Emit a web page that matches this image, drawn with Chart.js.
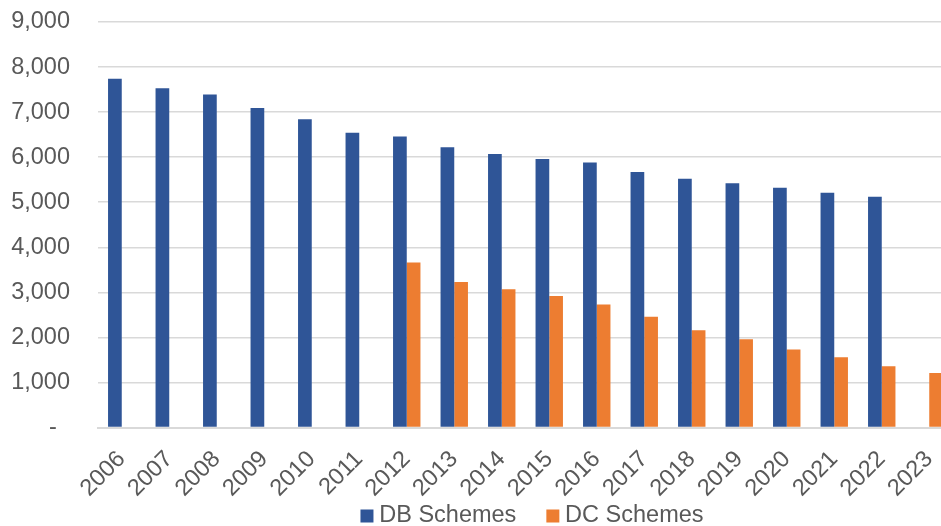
<!DOCTYPE html>
<html>
<head>
<meta charset="utf-8">
<script src="https://cdn.jsdelivr.net/npm/chart.js@4/dist/chart.umd.min.js"></script>
<style>
  html, body { margin: 0; padding: 0; background: #ffffff; overflow: hidden; }
  #wrap { position: relative; width: 960px; height: 577px; }
</style>
</head>
<body>
<div id="wrap"><canvas id="chart" width="960" height="577"></canvas></div>
<script>
// Number of pension schemes by type, per year
const years = ['2006','2007','2008','2009','2010','2011','2012','2013','2014','2015',
               '2016','2017','2018','2019','2020','2021','2022','2023'];
const dbSchemes = [7740, 7530, 7390, 7090, 6840, 6540, 6460, 6220, 6070, 5960,
                   5880, 5670, 5520, 5420, 5320, 5210, 5120, null];
const dcSchemes = [null, null, null, null, null, null, 3660, 3230, 3070, 2920,
                   2730, 2460, 2160, 1960, 1730, 1560, 1360, 1210];
const yTicks = [0, 1000, 2000, 3000, 4000, 5000, 6000, 7000, 8000, 9000];

const FONT = '"Liberation Sans", Arial, sans-serif';
const FONT_SIZE = 23.5;
const TEXT = '#595959';
const GRID = '#D9D9D9';
const LEGEND_PADDING = 36;

// Place the legend row so its text is centred on (x, y)
const legendPlace = {
  id: 'legendPlace',
  afterLayout(chart, args, opts) {
    const lg = chart.legend;
    if (!lg) return;
    const dx = opts.x - (lg.left + lg.right) / 2;
    lg.left += dx;
    lg.right += dx;
    const dy = (opts.y - LEGEND_PADDING - FONT_SIZE / 2) - lg.top;
    lg.top += dy;
    lg.bottom += dy;
  }
};

new Chart(document.getElementById('chart'), {
  type: 'bar',
  data: {
    labels: years,
    datasets: [
      { label: 'DB Schemes', data: dbSchemes, backgroundColor: '#2F5597',
        categoryPercentage: 0.577, barPercentage: 1.0 },
      { label: 'DC Schemes', data: dcSchemes, backgroundColor: '#ED7D31',
        categoryPercentage: 0.577, barPercentage: 1.0 }
    ]
  },
  options: {
    responsive: false,
    animation: false,
    layout: { padding: { left: 11, right: 7, top: 22, bottom: 0 } },
    scales: {
      x: {
        afterFit(scale) {
          scale.paddingLeft = 0;
          scale.paddingRight = 0;
          scale.height = 80;
        },
        grid: { display: false },
        border: { display: true, color: GRID, width: 2 },
        ticks: {
          color: TEXT,
          font: { family: FONT, size: FONT_SIZE },
          minRotation: 45, maxRotation: 45,
          padding: 10,
          autoSkip: false
        }
      },
      y: {
        min: 0, max: 9000,
        afterFit(scale) {
          scale.paddingTop = 0;
          scale.paddingBottom = 0;
          scale.width = 87;
        },
        afterBuildTicks(scale) { scale.ticks = yTicks.map(v => ({ value: v })); },
        grid: { color: GRID, lineWidth: 1.5, drawTicks: false },
        border: { display: false },
        ticks: {
          color: TEXT,
          font: { family: FONT, size: FONT_SIZE },
          padding: 28,
          callback: v => v === 0 ? '-  ' : v.toLocaleString('en-US')
        }
      }
    },
    plugins: {
      legendPlace: { x: 535, y: 516 },
      legend: {
        position: 'bottom',
        labels: {
          color: TEXT,
          font: { family: FONT, size: FONT_SIZE },
          usePointStyle: true,
          pointStyle: 'rect',
          boxWidth: 1,
          boxHeight: 13,
          padding: LEGEND_PADDING
        }
      },
      tooltip: { enabled: false }
    }
  },
  plugins: [legendPlace]
});
</script>
</body>
</html>
